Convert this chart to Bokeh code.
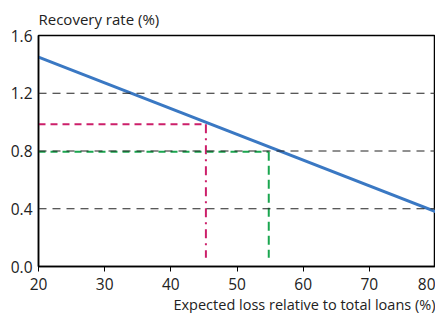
from bokeh.plotting import figure
from bokeh.models import Title, FixedTicker, NumeralTickFormatter, Span
from bokeh.embed import file_html
from bokeh.resources import INLINE

# Data
line_x = [20, 80]
line_y = [1.45, 0.38]
mag_h_x = [20, 45.3]
mag_h_y = [0.985, 0.985]
mag_v_x = [45.3, 45.3]
mag_v_y = [0.985, 0.06]
grn_h_x = [20, 54.8]
grn_h_y = [0.795, 0.795]
grn_v_x = [54.8, 54.8]
grn_v_y = [0.795, 0.06]
x_ticks = [20, 30, 40, 50, 60, 70, 80]
y_ticks = [0.0, 0.4, 0.8, 1.2, 1.6]
grid_levels = [0.4, 0.8, 1.2]

FONT = "Open Sans"

p = figure(width=435, height=313, x_range=(20, 80), y_range=(0, 1.6),
           output_backend="svg", toolbar_location=None,
           min_border_left=38, min_border_right=0, min_border_top=0, min_border_bottom=0)
p.xgrid.visible = False
p.ygrid.visible = False
p.outline_line_color = "black"
p.outline_line_width = 1.5
p.background_fill_color = "white"
p.border_fill_color = "white"

for g in grid_levels:
    p.add_layout(Span(location=g, dimension="width", line_color="#222222",
                      line_dash="8 6", line_width=1))

p.line(mag_h_x, mag_h_y, line_color="#cc1f6a", line_width=2, line_dash="7 5")
p.line(mag_v_x, mag_v_y, line_color="#cc1f6a", line_width=2, line_dash="9 5 2 5")
p.line(grn_h_x, grn_h_y, line_color="#1aa64f", line_width=2, line_dash="7 5")
p.line(grn_v_x, grn_v_y, line_color="#1aa64f", line_width=2, line_dash="9 5")
p.line(line_x, line_y, line_color="#3a78c3", line_width=3)

p.xaxis.ticker = FixedTicker(ticks=x_ticks)
p.yaxis.ticker = FixedTicker(ticks=y_ticks)
p.yaxis.formatter = NumeralTickFormatter(format="0.0")
for ax in (p.xaxis, p.yaxis):
    ax.axis_line_color = "black"
    ax.axis_line_width = 1.5
    ax.major_tick_line_color = "black"
    ax.minor_tick_line_color = None
    ax.major_label_text_font = FONT
    ax.major_label_text_font_size = "15.5px"
    ax.major_label_text_color = "#222222"
p.xaxis.major_tick_out = 5
p.xaxis.major_tick_in = 0
p.yaxis.major_tick_out = 0
p.yaxis.major_tick_in = 0
p.yaxis.major_label_standoff = 6
p.xaxis.major_label_standoff = 6

p.add_layout(Title(text="Expected loss relative to total loans (%)", align="right",
                   text_font=FONT, text_font_size="14.5px", text_font_style="normal",
                   text_color="#222222", standoff=0, offset=0), "below")
p.add_layout(Title(text="Recovery rate (%)", align="left",
                   text_font=FONT, text_font_size="15px", text_font_style="normal",
                   text_color="#222222", standoff=13), "above")

open("out.html", "w").write(file_html(p, INLINE))
